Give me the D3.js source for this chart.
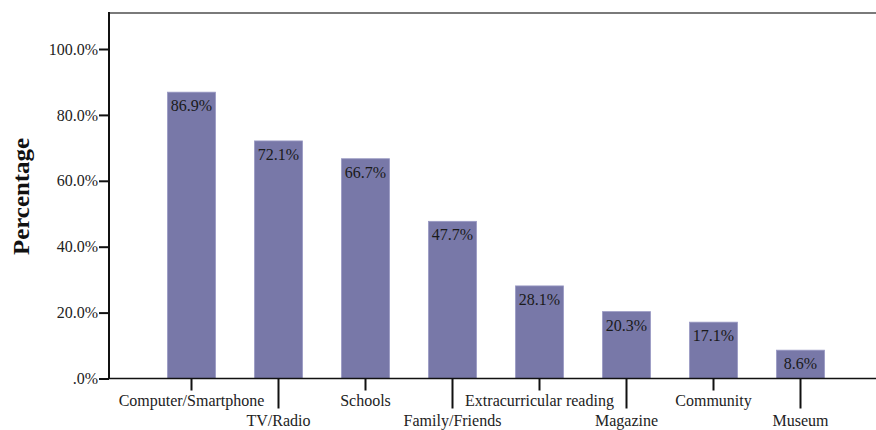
<!DOCTYPE html>
<html><head><meta charset="utf-8">
<script src="https://cdn.jsdelivr.net/npm/d3@7"></script>
<style>body{margin:0;background:#fff}svg{display:block}text{font-family:"Liberation Serif","Times New Roman",serif}</style>
</head><body>
<svg id="c" width="876" height="430"></svg>
<script>
const categories = ["Computer/Smartphone","TV/Radio","Schools","Family/Friends","Extracurricular reading","Magazine","Community","Museum"];
const values = [86.9, 72.1, 66.7, 47.7, 28.1, 20.3, 17.1, 8.6];
const yTicks = [0, 20, 40, 60, 80, 100];
const yTickLabels = [".0%", "20.0%", "40.0%", "60.0%", "80.0%", "100.0%"];

(function () {
const svg = d3.select("#c");
const FS = 16;
const pLeft = 109, pRight = 876, pTop = 13, pBottom = 378.5;
const y = d3.scaleLinear().domain([0, 100]).range([pBottom, 49]);
const x = d3.scaleBand().domain(categories).range([148, 844]).paddingInner(0.448).paddingOuter(0.224);

// bars
svg.append("g").selectAll("rect").data(values).join("rect")
  .attr("x", (d, i) => x(categories[i]))
  .attr("y", d => y(d))
  .attr("width", x.bandwidth())
  .attr("height", d => pBottom - y(d))
  .attr("fill", "#7878a8")
  .attr("stroke", "#9a9ac4").attr("stroke-width", 0.8);

// value labels
svg.append("g").selectAll("text").data(values).join("text")
  .attr("x", (d, i) => x(categories[i]) + x.bandwidth() / 2)
  .attr("y", d => y(d) + 19)
  .attr("text-anchor", "middle")
  .attr("font-size", FS).attr("fill", "#1a1a1a")
  .text(d => d.toFixed(1) + "%");

// top border
svg.append("line").attr("x1", pLeft).attr("x2", pRight).attr("y1", pTop).attr("y2", pTop)
  .attr("stroke", "#7a7a7a").attr("stroke-width", 2);

// y axis
const yAxis = d3.axisLeft(y).tickValues(yTicks).tickSize(10).tickPadding(1)
  .tickFormat((d, i) => yTickLabels[i]);
const gy = svg.append("g").attr("transform", `translate(${pLeft},0)`).call(yAxis);
gy.select(".domain").remove();
gy.selectAll(".tick line").attr("stroke", "#111").attr("stroke-width", 2);
gy.selectAll(".tick text").attr("font-size", FS).attr("fill", "#222")
  .attr("font-family", '"Liberation Serif",serif');
svg.append("line").attr("x1", pLeft).attr("x2", pLeft).attr("y1", pTop - 1).attr("y2", pBottom)
  .attr("stroke", "#111").attr("stroke-width", 2);

// x axis
const xAxis = d3.axisBottom(x).tickSize(0).tickFormat("");
const gx = svg.append("g").attr("transform", `translate(0,${pBottom})`).call(xAxis);
gx.select(".domain").remove();
svg.append("line").attr("x1", pLeft).attr("x2", pRight).attr("y1", pBottom).attr("y2", pBottom)
  .attr("stroke", "#111").attr("stroke-width", 1.5);
gx.selectAll(".tick").each(function(d, i) {
  const g = d3.select(this);
  const long = i % 2 === 1;
  g.append("line").attr("y1", 0).attr("y2", long ? 30 : 12)
    .attr("stroke", "#111").attr("stroke-width", 2);
  g.append("text").attr("y", long ? 47 : 27.5).attr("text-anchor", "middle")
    .attr("font-size", FS).attr("fill", "#222")
    .attr("font-family", '"Liberation Serif",serif')
    .text(d);
});

// y title
svg.append("text").attr("transform", "translate(29,196.5) rotate(-90)")
  .attr("text-anchor", "middle").attr("font-size", 23).attr("font-weight", "bold")
  .attr("textLength", 117).attr("lengthAdjust", "spacingAndGlyphs")
  .attr("fill", "#111").text("Percentage");
})();
</script>
</body></html>
